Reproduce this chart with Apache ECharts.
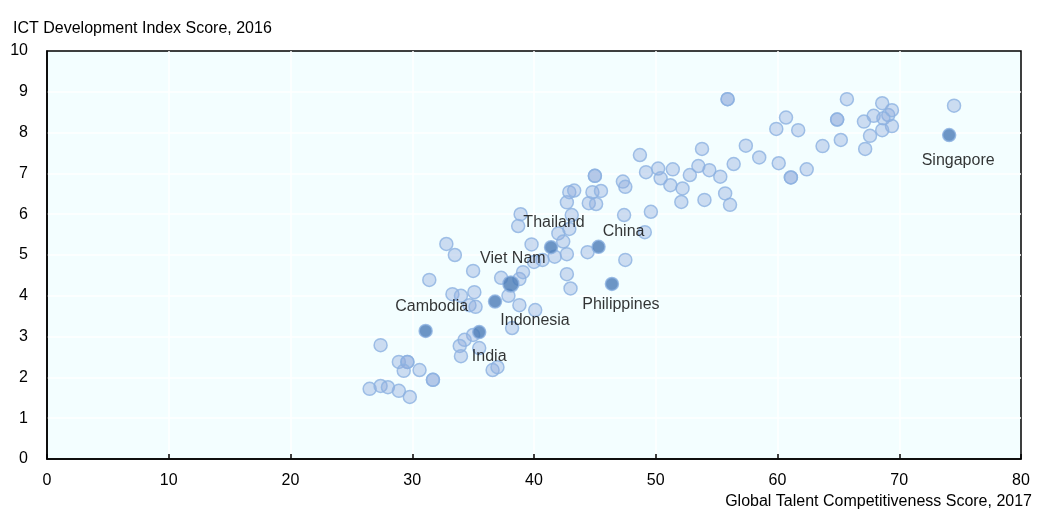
<!DOCTYPE html>
<html>
<head>
<meta charset="utf-8">
<script src="https://cdn.jsdelivr.net/npm/echarts@6/dist/echarts.min.js"></script>
<style>
html,body{margin:0;padding:0;background:#fff;}
#chart{width:1039px;height:513px;}
</style>
</head>
<body>
<div id="chart"></div>
<script>
// Highlighted economies
var highlightNames = ['Cambodia','Indonesia','India','Viet Nam','Thailand','China','Philippines','Singapore'];
var highlightX = [31.1, 36.8, 35.5, 38.1, 41.4, 45.3, 46.4, 74.1];
var highlightY = [3.14, 3.86, 3.11, 4.29, 5.19, 5.20, 4.29, 7.94];
var labelOffsets = [[6,-24],[40,19],[10,24],[2,-25],[3,-25],[25,-15],[9,21],[9,26]];

// Other economies
var otherX = [26.5,27.4,28.0,28.9,29.8,27.4,28.9,29.6,29.6,29.3,30.6,31.7,31.7,31.4,32.8,33.5,33.3,34.0,35.1,34.7,
  35.2,35.0,37.9,38.8,40.1,38.2,35.0,34.3,33.9,34.0,35.5,36.6,37.0,37.3,38.8,39.1,38.9,38.7,39.8,42.0,
  42.4,42.9,43.1,42.7,42.7,41.7,40.7,40.0,42.7,43.0,44.4,47.5,47.4,49.1,49.6,42.9,43.3,45.0,45.0,44.8,
  45.5,44.5,45.1,47.3,47.5,48.7,49.2,50.2,50.4,51.2,51.4,52.2,52.1,52.8,53.5,53.8,54.4,54.0,55.3,55.7,
  56.1,56.4,55.9,55.9,57.4,58.5,60.1,61.1,61.1,62.4,59.9,60.7,61.7,63.7,65.2,64.9,64.9,65.7,67.2,67.6,
  67.1,67.9,68.6,69.1,68.7,69.4,69.4,68.6,74.5];
var otherY = [1.72,1.79,1.76,1.67,1.52,2.79,2.38,2.38,2.38,2.16,2.18,1.94,1.94,4.39,5.27,5.00,4.04,4.00,4.09,3.77,
  3.73,4.61,4.00,3.77,3.65,3.21,3.04,2.92,2.77,2.52,2.72,2.18,2.25,4.44,4.41,4.58,6.00,5.71,5.26,5.53,
  5.33,5.64,5.98,6.29,5.02,4.96,4.88,4.83,4.53,4.18,5.07,4.88,5.98,5.56,6.06,6.54,6.58,6.94,6.94,6.54,
  6.57,6.27,6.25,6.80,6.67,7.45,7.03,7.12,6.88,6.71,7.10,6.63,6.30,6.96,7.18,7.60,7.08,6.35,6.92,6.51,
  6.23,7.23,8.82,8.82,7.68,7.39,7.25,6.90,6.90,7.10,8.09,8.37,8.06,7.67,7.82,8.32,8.32,8.82,7.60,7.92,
  8.27,8.41,8.72,8.43,8.35,8.55,8.16,8.06,8.66];

var xTicks = [0,10,20,30,40,50,60,70,80];
var yTicks = [0,1,2,3,4,5,6,7,8,9,10];

var otherData = otherX.map(function(x,i){ return [x, otherY[i]]; });
var highlightData = highlightNames.map(function(n,i){
  return {
    name: n,
    value: [highlightX[i], highlightY[i]],
    symbolSize: n === 'Viet Nam' ? 16 : 13,
    label: { show: true, position: 'inside', offset: labelOffsets[i], formatter: n,
             color: '#000', textBorderWidth: 0 }
  };
});

var FONT = '"Liberation Sans", Arial, sans-serif';
var chart = echarts.init(document.getElementById('chart'));
chart.setOption({
  animation: false,
  backgroundColor: '#ffffff',
  title: [
    { text: 'ICT Development Index Score, 2016', left: 8, top: 16,
      textStyle: { fontFamily: FONT, fontSize: 16, fontWeight: 'normal', color: '#000' } },
    { text: 'Global Talent Competitiveness Score, 2017', right: 2, top: 489,
      textStyle: { fontFamily: FONT, fontSize: 16, fontWeight: 'normal', color: '#000' } }
  ],
  grid: { left: 47, right: 18, top: 51, bottom: 54, show: true,
    backgroundColor: '#F3FEFF', borderColor: '#000', borderWidth: 1.5 },
  xAxis: {
    type: 'value', min: xTicks[0], max: xTicks[xTicks.length-1], interval: 10,
    axisLine: { show: true, lineStyle: { color: '#000', width: 1.5 } },
    axisTick: { show: true, inside: true, length: 5, lineStyle: { color: '#000', width: 1.5 } },
    axisLabel: { margin: 14, fontFamily: FONT, fontSize: 16, color: '#000' },
    splitLine: { show: true, showMinLine: false, showMaxLine: false, lineStyle: { color: '#ffffff', width: 1.5 } }
  },
  yAxis: {
    type: 'value', min: yTicks[0], max: yTicks[yTicks.length-1], interval: 1,
    axisLine: { show: true, lineStyle: { color: '#000', width: 1.5 } },
    axisTick: { show: false },
    axisLabel: { margin: 19, fontFamily: FONT, fontSize: 16, color: '#000' },
    splitLine: { show: true, showMinLine: false, showMaxLine: false, lineStyle: { color: '#ffffff', width: 1.5 } }
  },
  series: [
    {
      type: 'scatter', data: otherData, symbolSize: 13, z: 2,
      itemStyle: { color: 'rgba(143,171,219,0.5)', borderColor: '#8CB2E1', borderWidth: 1.5 },
      emphasis: { disabled: true }
    },
    {
      type: 'scatter', data: highlightData, z: 3,
      itemStyle: { color: '#4A7BB7', borderColor: '#8CB2E1', borderWidth: 1.5 },
      label: { color: '#000', fontFamily: FONT, fontSize: 16, textBorderWidth: 0 },
      emphasis: { disabled: true }
    }
  ]
});
</script>
</body>
</html>
